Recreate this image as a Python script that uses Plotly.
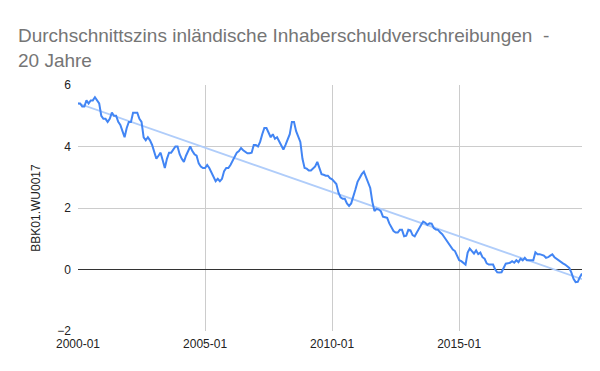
import numpy as np
import plotly.graph_objects as go

# Monthly values 2000-01 .. 2019-11
values = [
    5.4, 5.4, 5.3, 5.3, 5.5, 5.4, 5.5, 5.5, 5.6, 5.5, 5.4, 5.0,   # 2000
    4.9, 4.9, 4.8, 4.9, 5.1, 5.0, 5.0, 4.8, 4.7, 4.5, 4.3, 4.6,   # 2001
    4.8, 4.8, 5.1, 5.1, 5.1, 4.9, 4.8, 4.3, 4.2, 4.3, 4.2, 4.05,  # 2002
    3.85, 3.6, 3.7, 3.8, 3.55, 3.3, 3.6, 3.8, 3.8, 3.9, 4.0, 4.0, # 2003
    3.75, 3.6, 3.5, 3.7, 3.85, 4.0, 3.85, 3.75, 3.7, 3.45, 3.35, 3.3, # 2004
    3.3, 3.4, 3.3, 3.15, 3.0, 2.87, 2.95, 2.87, 2.95, 3.2, 3.3, 3.3,  # 2005
    3.4, 3.55, 3.7, 3.8, 3.85, 3.95, 3.88, 3.82, 3.78, 3.78, 3.8, 4.05, # 2006
    4.05, 4.0, 4.15, 4.4, 4.6, 4.6, 4.45, 4.3, 4.4, 4.25, 4.3, 4.15,   # 2007
    4.0, 3.9, 4.05, 4.2, 4.4, 4.8, 4.8, 4.5, 4.35, 4.15, 3.6, 3.3,     # 2008
    3.28, 3.22, 3.22, 3.3, 3.35, 3.5, 3.3, 3.1, 3.08, 3.05, 3.05, 2.97, # 2009
    2.93, 2.85, 2.78, 2.5, 2.35, 2.3, 2.3, 2.15, 2.07, 2.15, 2.35, 2.6, # 2010
    2.85, 3.0, 3.1, 3.18, 2.98, 2.8, 2.65, 2.2, 1.9, 1.97, 1.95, 1.9,   # 2011
    1.72, 1.7, 1.68, 1.5, 1.38, 1.25, 1.2, 1.2, 1.29, 1.29, 1.08, 1.1,  # 2012
    1.29, 1.27, 1.12, 1.08, 1.2, 1.35, 1.45, 1.56, 1.52, 1.45, 1.5, 1.49, # 2013
    1.35, 1.3, 1.29, 1.21, 1.15, 1.05, 0.95, 0.85, 0.75, 0.65, 0.6, 0.45, # 2014
    0.3, 0.27, 0.2, 0.16, 0.55, 0.68, 0.6, 0.52, 0.62, 0.5, 0.55, 0.4,   # 2015
    0.35, 0.2, 0.16, 0.16, 0.16, 0.0, -0.09, -0.1, -0.09, 0.05, 0.19, 0.2, # 2016
    0.22, 0.27, 0.22, 0.3, 0.24, 0.35, 0.3, 0.38, 0.3, 0.3, 0.3, 0.3,    # 2017
    0.56, 0.5, 0.5, 0.48, 0.45, 0.38, 0.4, 0.45, 0.49, 0.4, 0.35, 0.27,  # 2018
    0.25, 0.2, 0.16, 0.11, 0.05, -0.1, -0.3, -0.41, -0.4, -0.25, -0.13,  # 2019
]
months = [f"{2000 + i // 12}-{i % 12 + 1:02d}" for i in range(len(values))]
tick_labels = ["2000-01", "2005-01", "2010-01", "2015-01"]
y_ticks = [-2, 0, 2, 4, 6]

idx = np.arange(len(values))
slope, intercept = np.polyfit(idx, np.array(values), 1)
trend = (slope * idx + intercept).tolist()

fig = go.Figure()
fig.add_trace(go.Scatter(x=months, y=trend, mode="lines",
                         line=dict(color="#b0cdfa", width=1.8),
                         hoverinfo="skip", showlegend=False))
fig.add_trace(go.Scatter(x=months, y=values, mode="lines",
                         line=dict(color="#4285f4", width=2),
                         showlegend=False))

fig.update_layout(
    width=600, height=371,
    margin=dict(l=78, r=18, t=85, b=40),
    paper_bgcolor="white", plot_bgcolor="white",
    font=dict(family="Liberation Sans, Arial, sans-serif", size=12, color="#222222"),
    title=dict(
        text="Durchschnittszins inländische Inhaberschuldverschreibungen  -<br>20 Jahre",
        x=18 / 600, xanchor="left", y=1 - 42 / 371, yanchor="top",
        font=dict(size=19, color="#757575", family="Liberation Sans, Arial, sans-serif")),
    xaxis=dict(type="category", range=[0, len(values) - 1],
               tickmode="array", tickvals=tick_labels, ticktext=tick_labels,
               showgrid=True, gridcolor="#cccccc", gridwidth=1,
               showline=False, zeroline=False, ticks="", ticklabelstandoff=4,
               tickfont=dict(size=12, color="#222222")),
    yaxis=dict(range=[-2, 6], tickmode="array", tickvals=y_ticks,
               showgrid=True, gridcolor="#cccccc", gridwidth=1,
               zeroline=True, zerolinecolor="#333333", zerolinewidth=1,
               showline=False, ticks="", ticklabelstandoff=6,
               title=dict(text="BBK01.WU0017", font=dict(size=12, color="#222222"), standoff=14),
               tickfont=dict(size=12, color="#222222")),
)

fig.write_html("out.html")
